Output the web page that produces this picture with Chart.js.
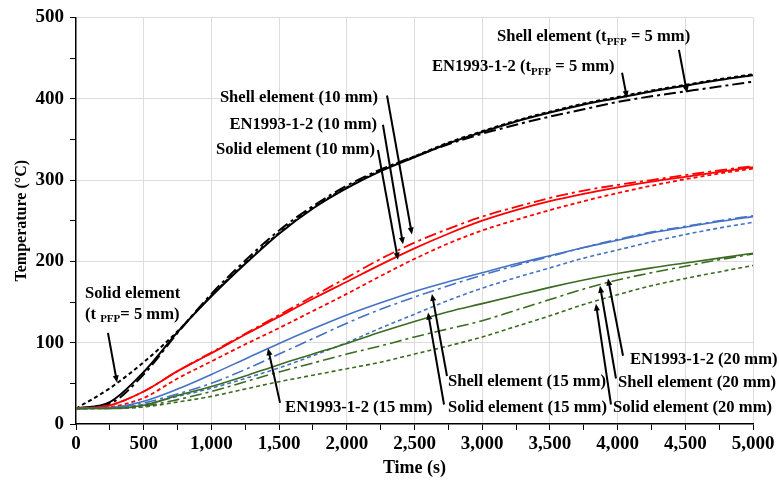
<!DOCTYPE html>
<html>
<head>
<meta charset="utf-8">
<script src="https://cdn.jsdelivr.net/npm/chart.js@4.4.1/dist/chart.umd.min.js"></script>
<style>
  html, body { margin: 0; padding: 0; background: #fff; }
  #wrap { width: 779px; height: 484px; }
</style>
</head>
<body>
<div id="wrap"><canvas id="tempChart"></canvas></div>
<script>
// time axis (s)
const times = [0, 250, 500, 750, 1000, 1250, 1500, 1750, 2000, 2250, 2500, 2750, 3000, 3250, 3500, 3750, 4000, 4250, 4500, 4750, 5000];

// tPFP = 5 mm
const en5    = [19, 27, 64, 113, 157, 197, 234, 265, 290, 311, 328, 345, 359, 372, 383, 393, 401, 409, 416, 423, 429];
const shell5 = [19, 25, 61, 112, 160, 201, 238, 268, 293, 313, 329, 344, 357, 368, 378, 387, 396, 403, 409, 415, 421];
const solid5 = [19, 44, 76, 114, 158, 198, 235, 266, 291, 312, 329, 346, 360, 373, 384, 394, 402, 410, 417, 424, 430];
// 10 mm
const en10    = [19, 23, 40, 65, 87, 110, 132, 154, 175, 196, 216, 234, 250, 263, 274, 283, 291, 298, 304, 310, 316];
const shell10 = [19, 23, 40, 65, 88, 111, 134, 157, 180, 203, 223, 240, 255, 267, 278, 287, 294, 300, 306, 312, 317];
const solid10 = [19, 21, 32, 56, 77, 98, 118, 139, 160, 182, 203, 222, 238, 251, 263, 274, 284, 293, 301, 308, 314];
// 15 mm
const en15    = [19, 20, 28, 43, 61, 80, 99, 117, 134, 149, 163, 175, 186, 197, 207, 217, 226, 235, 242, 249, 255];
const shell15 = [19, 20, 26, 37, 50, 67, 86, 105, 124, 141, 156, 170, 183, 195, 206, 217, 227, 236, 243, 250, 256];
const solid15 = [19, 20, 24, 34, 44, 56, 69, 84, 100, 118, 135, 152, 167, 180, 192, 204, 214, 224, 233, 241, 248];
// 20 mm
const en20    = [19, 19, 23, 35, 46, 59, 73, 86, 99, 113, 126, 138, 148, 158, 168, 177, 185, 192, 198, 204, 210];
const shell20 = [19, 19, 22, 30, 40, 52, 64, 75, 86, 96, 107, 117, 127, 140, 153, 166, 177, 186, 194, 202, 209];
const solid20 = [19, 19, 21, 27, 34, 43, 52, 60, 68, 76, 86, 96, 107, 120, 133, 147, 159, 170, 179, 187, 195];

// callouts: text anchor and arrow in data units (s, °C)
const notes = [
  { parts: [['Shell element (t', 0], ['PFP', 1], [' = 5 mm)', 0]], at: [3109, 476], align: 'left', from: [4453, 460], to: [4513, 407] },
  { parts: [['EN1993-1-2 (t', 0], ['PFP', 1], [' = 5 mm)', 0]], at: [2629, 439], align: 'left', from: [4033, 432], to: [4069, 401] },
  { parts: [['Shell element (10 mm)', 0]], at: [2230, 401], align: 'right', from: [2297, 404], to: [2481, 233] },
  { parts: [['EN1993-1-2 (10 mm)', 0]], at: [2223, 368], align: 'right', from: [2267, 368], to: [2415, 221] },
  { parts: [['Solid element (10 mm)', 0]], at: [2208, 337], align: 'right', from: [2230, 337], to: [2378, 202] },
  { parts: [['Solid element', 0]], at: [66, 160], align: 'left' },
  { parts: [['(t ', 0], ['PFP', 1], ['= 5 mm)', 0]], at: [66, 135], align: 'left', from: [236, 112], to: [303, 51] },
  { parts: [['EN1993-1-2 (15 mm)', 0]], at: [1544, 20], align: 'left', from: [1507, 26], to: [1418, 93] },
  { parts: [['Shell element (15 mm)', 0]], at: [2747, 52], align: 'left', from: [2740, 59], to: [2629, 160] },
  { parts: [['Solid element (15 mm)', 0]], at: [2747, 20], align: 'left', from: [2718, 24], to: [2600, 137] },
  { parts: [['EN1993-1-2 (20 mm)', 0]], at: [4092, 79], align: 'left', from: [4040, 84], to: [3929, 179] },
  { parts: [['Shell element (20 mm)', 0]], at: [4003, 51], align: 'left', from: [3988, 56], to: [3870, 170] },
  { parts: [['Solid element (20 mm)', 0]], at: [3966, 20], align: 'left', from: [3951, 24], to: [3840, 148] }
];

const SERIF = '"Liberation Serif", "Times New Roman", serif';
const RED = '#FF0000', BLUE = '#4472C4', GREEN = '#3A6B21', BLACK = '#000000';
const DASHDOT = [12, 4, 3, 4];
const SHORT = [4, 3];
const NOTE_FONT = 'bold 16.6px ' + SERIF;
const SUB_FONT = 'bold 11px ' + SERIF;

function pts(vals) {
  return vals.map((v, i) => ({ x: times[i], y: v }));
}
function line(label, vals, color, dash, width) {
  return {
    label: label,
    data: pts(vals),
    borderColor: color,
    backgroundColor: color,
    borderWidth: width,
    borderDash: dash,
    pointRadius: 0,
    fill: false,
    cubicInterpolationMode: 'monotone'
  };
}

const calloutPlugin = {
  id: 'callouts',
  afterDatasetsDraw(chart) {
    const ctx = chart.ctx;
    const xs = chart.scales.x, ys = chart.scales.y;
    ctx.save();
    notes.forEach(n => {
      const segs = n.parts.map(p => {
        ctx.font = p[1] ? SUB_FONT : NOTE_FONT;
        return { s: p[0], sub: p[1], w: ctx.measureText(p[0]).width };
      });
      const total = segs.reduce((a, s) => a + s.w, 0);
      let x = xs.getPixelForValue(n.at[0]);
      const y = ys.getPixelForValue(n.at[1]);
      if (n.align === 'right') x -= total;
      ctx.fillStyle = '#000';
      ctx.textBaseline = 'middle';
      ctx.textAlign = 'left';
      segs.forEach(s => {
        ctx.font = s.sub ? SUB_FONT : NOTE_FONT;
        ctx.fillText(s.s, x, s.sub ? y + 5 : y);
        x += s.w;
      });
      // arrow
      if (n.from) {
        const x1 = xs.getPixelForValue(n.from[0]), y1 = ys.getPixelForValue(n.from[1]);
        const x2 = xs.getPixelForValue(n.to[0]), y2 = ys.getPixelForValue(n.to[1]);
        const ang = Math.atan2(y2 - y1, x2 - x1);
        const hl = 7, hw = 3;
        ctx.strokeStyle = '#000';
        ctx.lineWidth = 2;
        ctx.setLineDash([]);
        ctx.beginPath();
        ctx.moveTo(x1, y1);
        ctx.lineTo(x2 - Math.cos(ang) * hl * 0.8, y2 - Math.sin(ang) * hl * 0.8);
        ctx.stroke();
        ctx.beginPath();
        ctx.moveTo(x2, y2);
        ctx.lineTo(x2 - Math.cos(ang) * hl - Math.sin(ang) * hw, y2 - Math.sin(ang) * hl + Math.cos(ang) * hw);
        ctx.lineTo(x2 - Math.cos(ang) * hl + Math.sin(ang) * hw, y2 - Math.sin(ang) * hl - Math.cos(ang) * hw);
        ctx.closePath();
        ctx.fillStyle = '#000';
        ctx.fill();
      }
    });
    ctx.restore();
  }
};

new Chart(document.getElementById('tempChart'), {
  type: 'line',
  data: {
    datasets: [
      line('Solid element (20 mm)', solid20, GREEN, SHORT, 1.6),
      line('Shell element (20 mm)', shell20, GREEN, DASHDOT, 1.6),
      line('EN1993-1-2 (20 mm)', en20, GREEN, [], 1.6),
      line('Solid element (15 mm)', solid15, BLUE, SHORT, 1.6),
      line('Shell element (15 mm)', shell15, BLUE, DASHDOT, 1.6),
      line('EN1993-1-2 (15 mm)', en15, BLUE, [], 1.6),
      line('Solid element (10 mm)', solid10, RED, SHORT, 1.8),
      line('Shell element (10 mm)', shell10, RED, DASHDOT, 1.8),
      line('EN1993-1-2 (10 mm)', en10, RED, [], 1.8),
      line('Solid element (5 mm)', solid5, BLACK, SHORT, 2),
      line('Shell element (5 mm)', shell5, BLACK, DASHDOT, 2),
      line('EN1993-1-2 (5 mm)', en5, BLACK, [], 2)
    ]
  },
  options: {
    responsive: true,
    maintainAspectRatio: false,
    animation: false,
    layout: { padding: { top: 15, right: 26, left: 0, bottom: 0 } },
    plugins: { legend: { display: false }, tooltip: { enabled: false } },
    scales: {
      x: {
        type: 'linear',
        min: 0, max: 5000,
        afterFit: s => { s.height = 60; },
        border: { color: '#000', width: 1.5 },
        grid: {
          color: c => (c.tick && c.tick.value % 500 === 0 && c.tick.value > 0) ? '#dcdcdc' : 'rgba(0,0,0,0)',
          tickColor: '#000',
          tickLength: 6
        },
        ticks: {
          stepSize: 250,
          autoSkip: false,
          maxRotation: 0,
          padding: 3,
          color: '#000',
          font: { family: SERIF, size: 19, weight: 'bold' },
          callback: v => v % 500 === 0 ? v.toLocaleString('en-US') : ''
        },
        title: {
          display: true,
          text: 'Time (s)',
          color: '#000',
          font: { family: SERIF, size: 18, weight: 'bold' },
          padding: { top: 0, bottom: 5 }
        }
      },
      y: {
        min: 0, max: 500,
        afterFit: s => { s.width = 76; },
        border: { color: '#000', width: 1.5 },
        grid: {
          color: c => (c.tick && c.tick.value % 100 === 0 && c.tick.value > 0) ? '#dcdcdc' : 'rgba(0,0,0,0)',
          tickColor: '#000',
          tickLength: 6
        },
        ticks: {
          stepSize: 50,
          autoSkip: false,
          padding: 6,
          color: '#000',
          font: { family: SERIF, size: 19, weight: 'bold' },
          callback: v => v % 100 === 0 ? v : ''
        },
        title: {
          display: true,
          text: 'Temperature (°C)',
          color: '#000',
          font: { family: SERIF, size: 16, weight: 'bold' },
          padding: { top: 12, bottom: 0 }
        }
      }
    }
  },
  plugins: [calloutPlugin]
});
</script>
</body>
</html>
